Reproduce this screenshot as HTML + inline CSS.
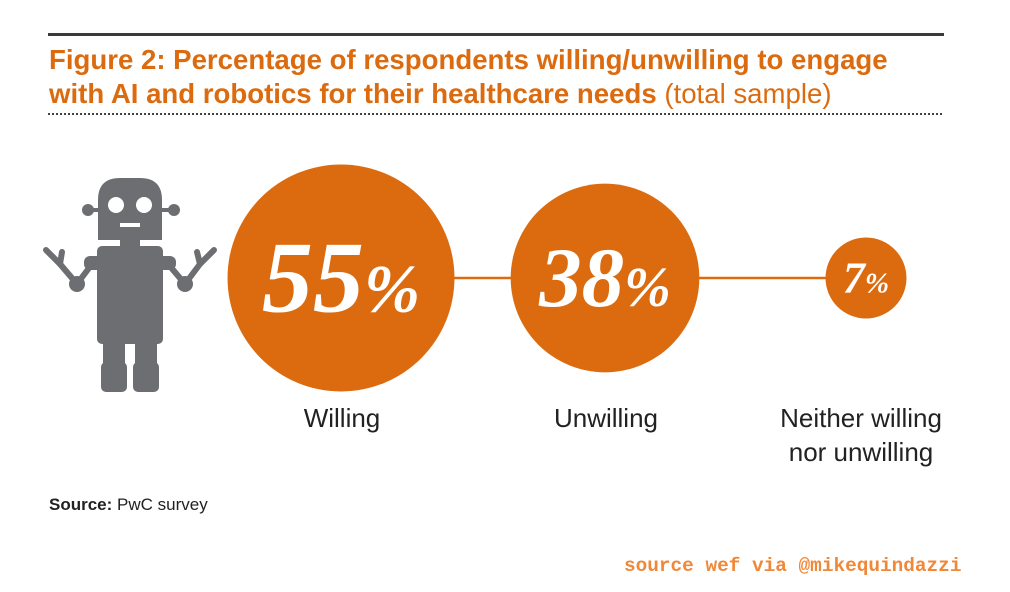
<!DOCTYPE html>
<html><head><meta charset="utf-8">
<style>
html,body{margin:0;padding:0;background:#fff;}
body{width:1010px;height:592px;position:relative;overflow:hidden;font-family:"Liberation Sans",Arial,sans-serif;}
.t{position:absolute;white-space:nowrap;}
</style></head><body>
<div style="position:absolute;left:48px;top:33px;width:896px;height:3px;background:#3a3a3a"></div>
<div class="t" style="left:49px;top:43px;font-size:27.6px;font-weight:bold;color:#dc6b0f;line-height:34px;">Figure 2: Percentage of respondents willing/unwilling to engage<br>with AI and robotics for their healthcare needs <span style="font-weight:normal">(total sample)</span></div>
<div style="position:absolute;left:48px;top:113px;width:894px;border-top:2px dotted #444"></div>

<svg style="position:absolute;left:0;top:0" width="240" height="400">
<g fill="#6d6e71" stroke="none">
<circle cx="88" cy="210" r="6"/><circle cx="174" cy="210" r="6"/>
<rect x="88" y="208" width="12" height="4"/><rect x="160" y="208" width="12" height="4"/>
<path d="M98 240 V200 Q98 178 120 178 H140 Q162 178 162 200 V240 Z"/>
<rect x="120" y="238" width="20" height="10"/>
<rect x="97" y="246" width="66" height="98" rx="5"/>
<rect x="84" y="256" width="18" height="14" rx="6"/><rect x="158" y="256" width="18" height="14" rx="6"/>
<rect x="103" y="340" width="22" height="26"/><rect x="135" y="340" width="22" height="26"/>
<rect x="101" y="362" width="26" height="30" rx="5"/><rect x="133" y="362" width="26" height="30" rx="5"/>
<circle cx="77" cy="284" r="8"/><circle cx="185" cy="284" r="8"/>
</g>
<g stroke="#6d6e71" stroke-width="6" fill="none" stroke-linecap="round">
<path d="M92 264 L77 284 L60 264"/><path d="M60 264 L46 250 M60 264 L62 252"/>
<path d="M168 264 L185 284 L200 264"/><path d="M200 264 L214 250 M200 264 L197 252"/>
</g>
<circle cx="116" cy="205" r="8" fill="#fff"/><circle cx="144" cy="205" r="8" fill="#fff"/>
<rect x="120" y="223" width="20" height="4" fill="#fff"/>
</svg>

<svg id="chart" style="position:absolute;left:0;top:0" width="1010" height="592"></svg>

<div class="t" style="left:49px;top:495px;font-size:17px;color:#222"><b>Source:</b> PwC survey</div>
<div class="t" style="left:624px;top:555px;font-size:19.4px;font-weight:bold;color:#f0883a;font-family:'Liberation Mono',monospace;">source wef via @mikequindazzi</div>

<script>
const categories = ["Willing", "Unwilling", "Neither willing|nor unwilling"];
const values = [55, 38, 7];
const ns = "http://www.w3.org/2000/svg";
const svg = document.getElementById('chart');
const centersX = [341, 605, 866];
const cy = 278;
function rScale(v){ return 15.3 * Math.sqrt(v); }
function mk(tag, attrs){ const e = document.createElementNS(ns, tag); for (const k in attrs) e.setAttribute(k, attrs[k]); svg.appendChild(e); return e; }
const line = mk('line', {x1: centersX[0], x2: centersX[centersX.length-1], y1: cy, y2: cy, stroke: '#dc6b0f', 'stroke-width': 2.5});


values.forEach((v, i) => {
  const r = rScale(v);
  const c = mk('circle', {cx: centersX[i], cy: cy, r: r, fill: '#dc6b0f'});
  
  
  const fs = Math.max(44, r * 0.9);
  const t = mk('text', {x: centersX[i], y: cy + fs * 0.33, 'text-anchor': 'middle', fill: '#fff', 'font-family': 'Liberation Serif, serif', 'font-weight': 'bold', 'font-style': 'italic', 'font-size': fs});
  
  
  t.textContent = v;
  const p = document.createElementNS(ns, 'tspan');
  p.setAttribute('font-size', fs * 0.66);
  p.textContent = '%';
  t.appendChild(p);
  const parts = categories[i].split('|');
  parts.forEach((s, j) => {
    const l = mk('text', {x: centersX[i] + (i === 0 ? 1 : i === 1 ? 1 : -5), y: 427 + j * 34, 'text-anchor': 'middle', fill: '#222', 'font-family': 'Liberation Sans, sans-serif', 'font-size': 26});
    
    
    l.textContent = s;
  });
});
</script>
</body></html>
